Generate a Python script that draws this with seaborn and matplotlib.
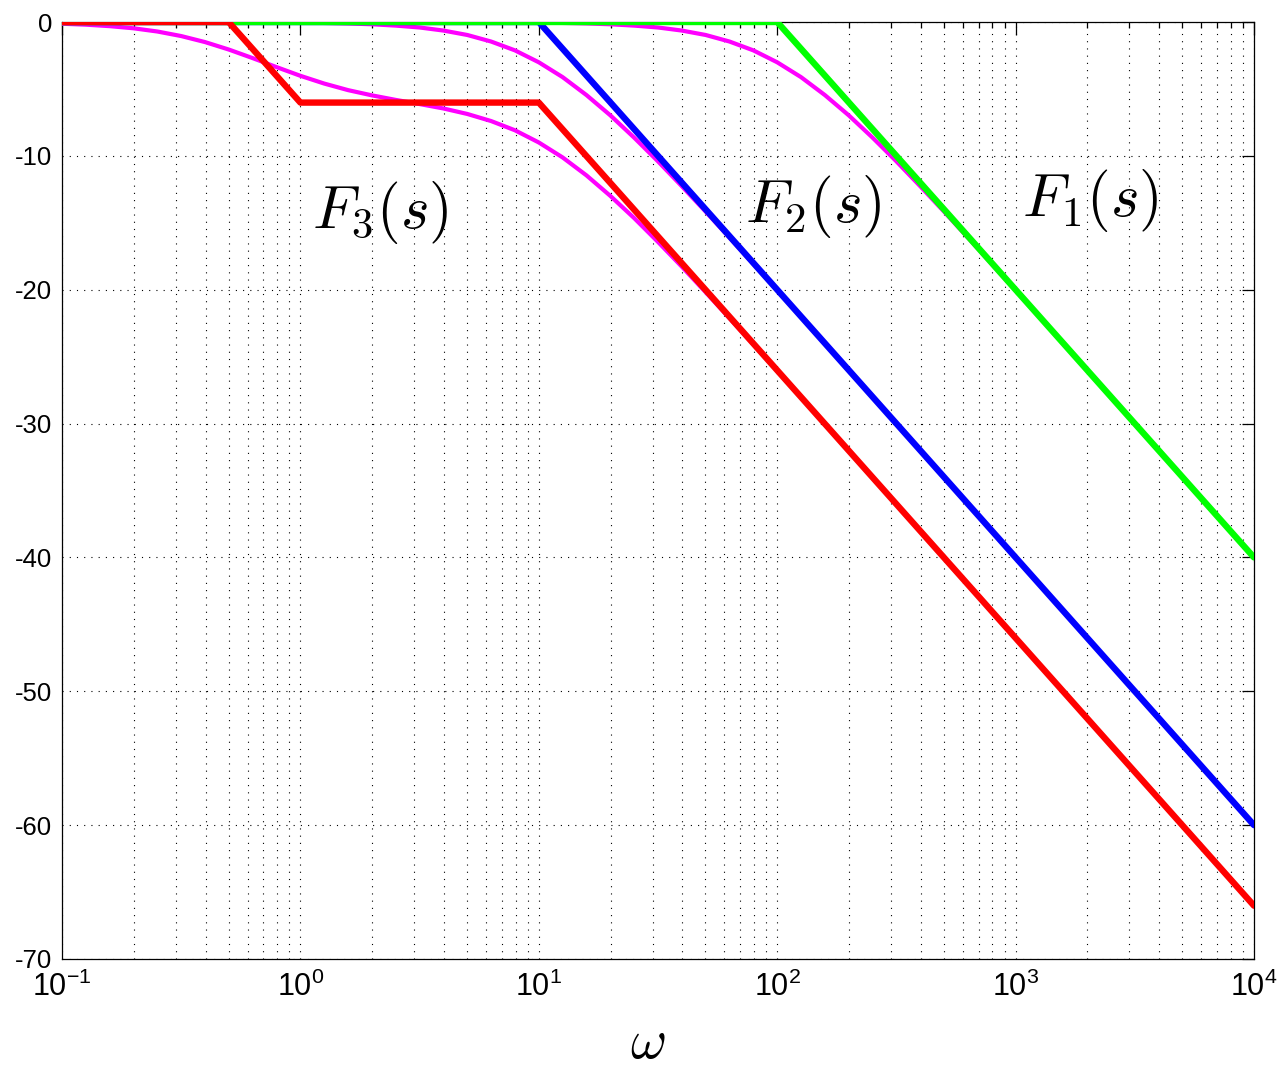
import numpy as np
import pandas as pd
import matplotlib
matplotlib.use("Agg")
import matplotlib.pyplot as plt
import seaborn as sns
from matplotlib.ticker import LogLocator, FixedLocator

# ---- data ----
# frequency samples for the exact magnitude curves
w_mag = [0.1, 0.1259, 0.1585, 0.1995, 0.2512, 0.3162, 0.3981, 0.5012, 0.631, 0.7943,
         1, 1.259, 1.585, 1.995, 2.512, 3.162, 3.981, 5.012, 6.31, 7.943,
         10, 12.59, 15.85, 19.95, 25.12, 31.62, 39.81, 50.12, 63.1, 79.43,
         100, 125.9, 158.5, 199.5, 251.2, 316.2, 398.1, 501.2, 631, 794.3,
         1000, 1259, 1585, 1995, 2512, 3162, 3981, 5012, 6310, 7943, 10000]

F1_mag = [0, 0, 0, 0, 0, 0, 0, 0, 0, 0,
          0.0, 0.0, 0.0, 0.0, 0.0, 0.0, -0.01, -0.01, -0.02, -0.03,
          -0.04, -0.07, -0.11, -0.17, -0.27, -0.41, -0.64, -0.97, -1.46, -2.12,
          -3.01, -4.12, -5.46, -6.97, -8.64, -10.41, -12.27, -14.17, -16.11, -18.07,
          -20.04, -22.03, -24.02, -26.01, -28.01, -30.0, -32.0, -34.0, -36.0, -38.0,
          -40.0]

F2_mag = [0.0, 0.0, 0.0, 0.0, 0.0, 0.0, -0.01, -0.01, -0.02, -0.03,
          -0.04, -0.07, -0.11, -0.17, -0.27, -0.41, -0.64, -0.97, -1.46, -2.12,
          -3.01, -4.12, -5.46, -6.97, -8.64, -10.41, -12.27, -14.17, -16.11, -18.07,
          -20.04, -22.03, -24.02, -26.01, -28.01, -30.0, -32.0, -34.0, -36.0, -38.0,
          -40.0, -42.0, -44.0, -46.0, -48.0, -50.0, -52.0, -54.0, -56.0, -58.0,
          -60.0]

F3_mag = [-0.13, -0.20, -0.31, -0.47, -0.71, -1.05, -1.50, -2.06, -2.70, -3.37,
          -4.02, -4.60, -5.09, -5.48, -5.82, -6.13, -6.46, -6.87, -7.40, -8.09,
          -9.00, -10.12, -11.46, -12.99, -14.65, -16.43, -18.28, -20.19, -22.13, -24.09,
          -26.06, -28.05, -30.04, -32.03, -34.03, -36.03, -38.02, -40.02, -42.02, -44.02,
          -46.02, -48.02, -50.02, -52.02, -54.02, -56.02, -58.02, -60.02, -62.02, -64.02,
          -66.02]

# straight-line (asymptotic) approximations
F1_asym_w = [0.1, 100, 10000]
F1_asym_db = [0, 0, -40]
F2_asym_w = [0.1, 10, 10000]
F2_asym_db = [0, 0, -60]
F3_asym_w = [0.1, 0.5, 1, 10, 10000]
F3_asym_db = [0, 0, -6.02, -6.02, -66.02]

y_ticks = [0, -10, -20, -30, -40, -50, -60, -70]
x_ticks = [0.1, 1, 10, 100, 1000, 10000]
x_ticklabels = [r"$\mathdefault{10^{-1}}$", r"$\mathdefault{10^{0}}$", r"$\mathdefault{10^{1}}$",
                r"$\mathdefault{10^{2}}$", r"$\mathdefault{10^{3}}$", r"$\mathdefault{10^{4}}$"]
labels = [r"$F_3(s)$", r"$F_2(s)$", r"$F_1(s)$"]
label_pos = [(0.2668, 0.7962), (0.6305, 0.8035), (0.8625, 0.809)]

# ---- style ----
sns.set_style("white")
plt.rcParams["font.family"] = ["Liberation Sans", "DejaVu Sans"]
plt.rcParams["mathtext.fontset"] = "custom"
plt.rcParams["mathtext.rm"] = "Liberation Sans"
plt.rcParams["mathtext.it"] = "Liberation Sans:italic"
plt.rcParams["axes.unicode_minus"] = False

fig = plt.figure(figsize=(12.8, 10.7), dpi=100)
ax = fig.add_axes([62 / 1280, 1 - 959 / 1070, (1254 - 62) / 1280, (959 - 22) / 1070])

mag_lw = 3.0
asym_lw = 4.6
for vals in (F1_mag, F2_mag, F3_mag):
    sns.lineplot(x=w_mag, y=vals, ax=ax, color="#ff00ff", linewidth=mag_lw,
                 sort=False, estimator=None, zorder=3)
sns.lineplot(x=F2_asym_w, y=F2_asym_db, ax=ax, color="#0000ff", linewidth=asym_lw,
             sort=False, estimator=None, zorder=4)
sns.lineplot(x=F1_asym_w, y=F1_asym_db, ax=ax, color="#00ff00", linewidth=asym_lw,
             sort=False, estimator=None, zorder=4)
sns.lineplot(x=F3_asym_w, y=F3_asym_db, ax=ax, color="#ff0000", linewidth=asym_lw,
             sort=False, estimator=None, zorder=4)

ax.set_xscale("log")
ax.set_xlim(0.1, 1e4)
ax.set_ylim(-70, 0)
ax.yaxis.set_major_locator(FixedLocator(y_ticks))
ax.set_yticklabels([str(v) for v in y_ticks])
ax.xaxis.set_major_locator(FixedLocator(x_ticks))
ax.set_xticklabels(x_ticklabels)
ax.xaxis.set_minor_locator(LogLocator(base=10, subs=np.arange(2, 10), numticks=20))
ax.xaxis.set_minor_formatter(plt.NullFormatter())

dot = (0, (1.0, 5.5))
ax.grid(True, which="major", axis="both", color="k", linestyle=dot, linewidth=0.8, zorder=1)
ax.grid(True, which="minor", axis="x", color="k", linestyle=dot, linewidth=0.8, zorder=1)
ax.set_axisbelow(True)

ax.tick_params(which="both", direction="in", top=True, right=True, colors="k", width=0.9)
ax.tick_params(axis="y", labelsize=18.5, pad=7)
ax.tick_params(axis="x", labelsize=22, pad=9)
ax.tick_params(which="major", length=9)
ax.tick_params(which="minor", length=4.5)
for s in ax.spines.values():
    s.set_visible(True)
    s.set_color("k")
    s.set_linewidth(0.9)

ax.set_xlabel("")
ax.set_ylabel("")

for txt, (px, py) in zip(labels, label_pos):
    t = ax.text(px, py, txt, transform=ax.transAxes, ha="center", va="center",
                fontsize=44, color="k")
    t.set_math_fontfamily("cm")

om = fig.text(648 / 1280, 1 - 1058 / 1070, r"$\omega$", ha="center", va="baseline",
              fontsize=40, color="k")
om.set_math_fontfamily("cm")

fig.savefig("out.png", dpi=100)
